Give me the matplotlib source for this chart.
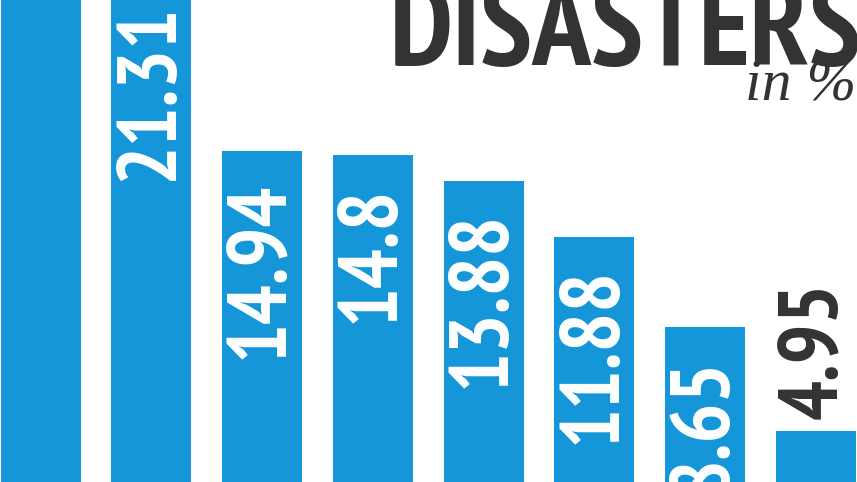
import matplotlib.pyplot as plt

# 数据 (第一根柱子在图外被截断, 数值估计)
categories = ['c1', 'c2', 'c3', 'c4', 'c5', 'c6', 'c7', 'c8']
values = [24.0, 21.31, 14.94, 14.8, 13.88, 11.88, 8.65, 4.95]
labels = ['', '21.31', '14.94', '14.8', '13.88', '11.88', '8.65', '4.95']

blue = '#1496d8'
dark = '#333333'
num_font = ['PT Sans Narrow', 'DejaVu Sans']

fig = plt.figure(figsize=(8.57, 4.82), dpi=100)
ax = fig.add_axes([0, 0, 1, 1])

x = list(range(len(values)))
ax.bar(x, values, width=0.722, color=blue)

# 柱内白色数字, 最后一根放在柱子上方
for i, (v, t) in enumerate(zip(values, labels)):
    if not t:
        continue
    if i == len(values) - 1:
        ax.annotate(t, (i, v), xytext=(0, 9), textcoords='offset points',
                    rotation=90, ha='center', va='bottom', color=dark,
                    fontsize=60, fontweight='bold', family=num_font,
                    annotation_clip=False)
    else:
        ax.annotate(t, (i, v), xytext=(0, -22), textcoords='offset points',
                    rotation=90, ha='center', va='top', color='white',
                    fontsize=60, fontweight='bold', family=num_font,
                    annotation_clip=False)

ax.set_xlim(-0.366, 7.37)
ax.set_ylim(3.13, 20.34)
ax.axis('off')

# 标题
fig.text(390 / 857, 1 - 65 / 482, 'DISASTERS', ha='left', va='baseline',
         fontsize=85, fontweight='bold', color=dark, family=num_font)
fig.text(745 / 857, 1 - 100 / 482, 'in %', ha='left', va='baseline',
         fontsize=43, style='italic', color=dark,
         family=['Liberation Serif', 'DejaVu Serif'])

plt.savefig('out.png', dpi=100)
